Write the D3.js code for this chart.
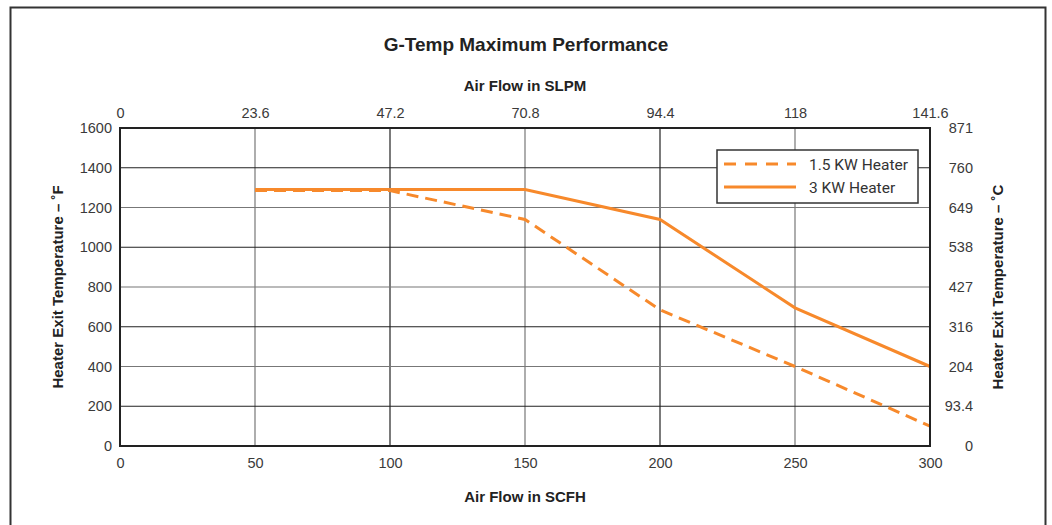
<!DOCTYPE html>
<html><head><meta charset="utf-8">
<script src="https://cdn.jsdelivr.net/npm/d3@7"></script>
<style>
html,body{margin:0;padding:0;background:#fff;}
svg{display:block;font-family:"Liberation Sans",Arial,sans-serif;}
</style></head>
<body><svg id="c" width="1052" height="525"></svg>
<script>
const scfhTicks = [0, 50, 100, 150, 200, 250, 300];
const slpmLabels = ["0", "23.6", "47.2", "70.8", "94.4", "118", "141.6"];
const degFTicks = [0, 200, 400, 600, 800, 1000, 1200, 1400, 1600];
const degCLabels = ["0", "93.4", "204", "316", "427", "538", "649", "760", "871"];
const seriesNames = ["1.5 KW Heater", "3 KW Heater"];
const heater15x = [50, 100, 150, 200, 250, 300];
const heater15y = [1285, 1285, 1140, 685, 400, 100];
const heater3x = [50, 150, 200, 250, 300];
const heater3y = [1290, 1290, 1140, 695, 400];

const svg = d3.select("#c");
const W = 1052, H = 525;
const orange = "#f7892b";
const L = 120, R = 930, T = 128, B = 446;

// outer frame
svg.append("path").attr("d", `M10.5,${H+2} V7.5 H1045.5 V${H+2}`)
  .attr("fill", "none").attr("stroke", "#333").attr("stroke-width", 2);

const x = d3.scaleLinear().domain([0, 300]).range([L, R]);
const y = d3.scaleLinear().domain([0, 1600]).range([B, T]);

// grid
const g = svg.append("g");
g.selectAll(".vg").data(scfhTicks.slice(1, -1)).join("line")
  .attr("x1", d => x(d)).attr("x2", d => x(d)).attr("y1", T).attr("y2", B)
  .attr("stroke", (d, i) => i % 2 ? "#222" : "#777").attr("stroke-width", 1.2);
g.selectAll(".hg").data(degFTicks.slice(1, -1)).join("line")
  .attr("x1", L).attr("x2", R).attr("y1", d => y(d)).attr("y2", d => y(d))
  .attr("stroke", (d, i) => i % 2 ? "#777" : "#222").attr("stroke-width", 1.2);

// axes (labels only)
const tickStyle = sel => {
  sel.select(".domain").remove();
  sel.selectAll(".tick line").remove();
  sel.selectAll("text").attr("fill", "#3a3a3a").style("font-size", "14.5px")
    .style("font-family", '"Liberation Sans",Arial,sans-serif');
};
svg.append("g").attr("transform", `translate(0,${B+4})`)
  .call(d3.axisBottom(x).tickValues(scfhTicks).tickSize(0).tickPadding(8).tickFormat(d3.format("d")))
  .call(tickStyle);
svg.append("g").attr("transform", `translate(0,${T-6})`)
  .call(d3.axisTop(x).tickValues(scfhTicks).tickSize(0).tickPadding(4).tickFormat((d, i) => slpmLabels[i]))
  .call(tickStyle);
svg.append("g").attr("transform", `translate(${L-6},0)`)
  .call(d3.axisLeft(y).tickValues(degFTicks).tickSize(0).tickPadding(2).tickFormat(d3.format("d")))
  .call(tickStyle);
svg.append("g").attr("transform", `translate(${R+14},0)`)
  .call(d3.axisRight(y).tickValues(degFTicks).tickSize(0).tickPadding(0).tickFormat((d, i) => degCLabels[i]))
  .call(tickStyle)
  .call(s => s.selectAll("text").attr("text-anchor", "end").attr("x", 29));

// lines
const line = d3.line().x(d => x(d[0])).y(d => y(d[1]));
const d15 = heater15x.map((v, i) => [v, heater15y[i]]);
const d3k = heater3x.map((v, i) => [v, heater3y[i]]);
svg.append("path").datum(d15).attr("d", line).attr("fill", "none")
  .attr("stroke", orange).attr("stroke-width", 3).attr("stroke-dasharray", "12,7");
svg.append("path").datum(d3k).attr("d", line).attr("fill", "none")
  .attr("stroke", orange).attr("stroke-width", 3);

// plot border
svg.append("rect").attr("x", L).attr("y", T).attr("width", R - L).attr("height", B - T)
  .attr("fill", "none").attr("stroke", "#222").attr("stroke-width", 2);

// legend
const lg = svg.append("g");
lg.append("rect").attr("x", 717).attr("y", 150).attr("width", 201).attr("height", 53)
  .attr("fill", "#fff").attr("stroke", "#333").attr("stroke-width", 1.5);
seriesNames.forEach((n, i) => {
  const yy = 164 + i * 23;
  lg.append("line").attr("x1", 724).attr("x2", 796).attr("y1", yy).attr("y2", yy)
    .attr("stroke", orange).attr("stroke-width", 3)
    .attr("stroke-dasharray", i === 0 ? "12,9" : null);
  lg.append("text").attr("x", 809).attr("y", yy + 5.5).text(n)
    .attr("fill", "#333").style("font-size", "15.5px").style("font-family", "Roboto, Arial, sans-serif");
});

// titles
svg.append("text").attr("x", 526).attr("y", 51).attr("text-anchor", "middle")
  .text("G-Temp Maximum Performance").attr("fill", "#222")
  .style("font-size", "19px").style("font-weight", "bold");
svg.append("text").attr("x", 525).attr("y", 91).attr("text-anchor", "middle")
  .text("Air Flow in SLPM").attr("fill", "#222")
  .style("font-size", "15px").style("font-weight", "bold");
svg.append("text").attr("x", 525).attr("y", 502).attr("text-anchor", "middle")
  .text("Air Flow in SCFH").attr("fill", "#222")
  .style("font-size", "15px").style("font-weight", "bold");
svg.append("text").attr("transform", `translate(63,${(T+B)/2}) rotate(-90)`).attr("text-anchor", "middle")
  .text("Heater Exit Temperature – ˚F").attr("fill", "#222")
  .style("font-size", "15px").style("font-weight", "bold");
svg.append("text").attr("transform", `translate(1003,${(T+B)/2}) rotate(-90)`).attr("text-anchor", "middle")
  .text("Heater Exit Temperature – ˚C").attr("fill", "#222")
  .style("font-size", "15px").style("font-weight", "bold");
</script></body></html>
